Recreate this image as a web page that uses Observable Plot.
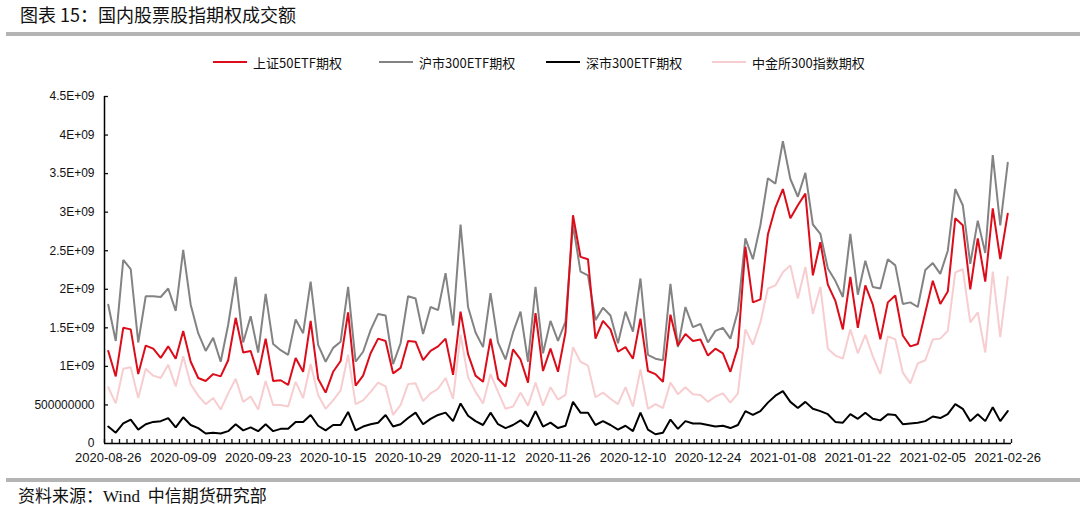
<!DOCTYPE html>
<html><head><meta charset="utf-8">
<script src="https://cdn.jsdelivr.net/npm/d3@7"></script>
<script src="https://cdn.jsdelivr.net/npm/@observablehq/plot@0.6"></script>
<style>
html,body{margin:0;padding:0;background:#fff;}
#wrap{position:relative;width:1080px;height:519px;overflow:hidden;font-family:"Noto Sans CJK SC","Noto Sans",sans-serif;color:#111;}
#title{position:absolute;left:20px;top:1px;font-size:18px;line-height:26px;white-space:nowrap;}
.bar{position:absolute;left:6px;right:0;height:4px;background:#b4b4b4;}
.leg{position:absolute;top:53px;height:18px;display:flex;align-items:center;font-size:13px;white-space:nowrap;}
.sw{width:34px;height:2px;margin-right:6px;}
#chart{position:absolute;left:0;top:80px;}
#cap{position:absolute;left:18px;top:483px;font-size:17px;line-height:24px;white-space:nowrap;}
#cap .w{font-family:"Liberation Serif",serif;}
</style></head>
<body><div id="wrap">
<div id="title">图表 15：国内股票股指期权成交额</div>
<div class="bar" style="top:32px"></div>
<div id="legend"></div>
<div id="chart"></div>
<div class="bar" style="top:478px"></div>
<div id="cap">资料来源：<span class="w">Wind</span>&nbsp;&nbsp;中信期货研究部</div>
</div>
<script>
const dates = [
"2020-08-26","2020-08-27","2020-08-28","2020-08-31",
"2020-09-01","2020-09-02","2020-09-03","2020-09-04","2020-09-07","2020-09-08","2020-09-09","2020-09-10","2020-09-11",
"2020-09-14","2020-09-15","2020-09-16","2020-09-17","2020-09-18","2020-09-21","2020-09-22","2020-09-23","2020-09-24","2020-09-25",
"2020-09-28","2020-09-29","2020-09-30",
"2020-10-09","2020-10-12","2020-10-13","2020-10-14","2020-10-15","2020-10-16","2020-10-19","2020-10-20","2020-10-21","2020-10-22","2020-10-23",
"2020-10-26","2020-10-27","2020-10-28","2020-10-29","2020-10-30",
"2020-11-02","2020-11-03","2020-11-04","2020-11-05","2020-11-06","2020-11-09","2020-11-10","2020-11-11","2020-11-12","2020-11-13",
"2020-11-16","2020-11-17","2020-11-18","2020-11-19","2020-11-20","2020-11-23","2020-11-24","2020-11-25","2020-11-26","2020-11-27","2020-11-30",
"2020-12-01","2020-12-02","2020-12-03","2020-12-04","2020-12-07","2020-12-08","2020-12-09","2020-12-10","2020-12-11",
"2020-12-14","2020-12-15","2020-12-16","2020-12-17","2020-12-18","2020-12-21","2020-12-22","2020-12-23","2020-12-24","2020-12-25",
"2020-12-28","2020-12-29","2020-12-30","2020-12-31",
"2021-01-04","2021-01-05","2021-01-06","2021-01-07","2021-01-08","2021-01-11","2021-01-12","2021-01-13","2021-01-14","2021-01-15",
"2021-01-18","2021-01-19","2021-01-20","2021-01-21","2021-01-22","2021-01-25","2021-01-26","2021-01-27","2021-01-28","2021-01-29",
"2021-02-01","2021-02-02","2021-02-03","2021-02-04","2021-02-05","2021-02-08","2021-02-09","2021-02-10","2021-02-18","2021-02-19",
"2021-02-22","2021-02-23","2021-02-24","2021-02-25","2021-02-26"];

// values in units of 1E+09
const sz50 = [1.20,0.87,1.50,1.48,0.90,1.27,1.23,1.11,1.26,1.10,1.46,1.06,0.85,0.81,0.90,0.87,
1.08,1.63,1.18,1.20,0.89,1.36,0.81,0.82,0.76,1.11,0.93,1.59,0.84,0.66,0.93,
1.07,1.70,0.75,0.88,1.17,1.36,1.33,0.91,0.98,1.33,1.32,1.08,1.20,1.26,1.36,
0.89,1.71,1.16,0.88,0.80,1.36,0.84,0.74,1.22,1.09,0.79,1.69,0.94,1.23,0.93,
1.44,2.96,2.42,2.39,1.36,1.59,1.48,1.19,1.25,1.10,1.62,0.94,0.90,0.80,1.67,
1.27,1.42,1.33,1.35,1.14,1.23,1.17,0.93,1.25,2.55,1.83,1.87,2.71,3.06,3.30,
2.92,3.09,3.24,2.18,2.61,2.06,1.85,1.48,2.16,1.50,2.05,1.80,1.35,1.83,1.92,
1.40,1.26,1.29,1.70,2.11,1.81,1.97,2.92,2.83,2.00,2.66,2.10,3.05,2.39,2.98];
const hs300 = [1.80,1.33,2.38,2.26,1.31,1.91,1.91,1.90,2.01,1.72,2.51,1.80,1.43,1.20,1.37,1.06,
1.54,2.16,1.31,1.65,1.18,1.94,1.29,1.21,1.15,1.61,1.43,2.10,1.28,1.06,1.24,
1.32,2.03,1.06,1.19,1.47,1.68,1.66,1.03,1.30,1.91,1.88,1.42,1.77,1.73,2.21,
1.53,2.84,1.77,1.44,1.25,1.95,1.31,1.09,1.44,1.71,1.06,2.03,1.17,1.59,1.33,
1.58,2.84,2.23,2.18,1.60,1.76,1.66,1.30,1.71,1.45,2.14,1.15,1.10,1.08,2.07,
1.25,1.77,1.51,1.55,1.31,1.46,1.50,1.36,1.72,2.66,2.39,2.83,3.44,3.37,3.92,
3.43,3.20,3.51,2.84,2.72,2.27,2.11,1.90,2.72,1.93,2.37,2.03,2.01,2.39,2.31,
1.81,1.83,1.77,2.25,2.34,2.20,2.50,3.30,3.09,2.33,2.89,2.47,3.74,2.83,3.64];
const ss300 = [0.22,0.14,0.26,0.31,0.18,0.25,0.28,0.29,0.33,0.21,0.34,0.24,0.20,0.13,0.14,0.13,
0.16,0.25,0.17,0.21,0.16,0.25,0.16,0.19,0.19,0.28,0.28,0.37,0.23,0.17,0.24,
0.24,0.41,0.17,0.22,0.25,0.27,0.37,0.22,0.25,0.33,0.40,0.25,0.32,0.37,0.40,
0.29,0.52,0.36,0.29,0.24,0.40,0.25,0.20,0.24,0.30,0.22,0.42,0.22,0.27,0.20,
0.23,0.54,0.40,0.40,0.24,0.29,0.24,0.18,0.23,0.16,0.40,0.18,0.12,0.14,0.31,
0.19,0.29,0.26,0.26,0.24,0.22,0.23,0.20,0.24,0.42,0.37,0.42,0.53,0.62,0.68,
0.54,0.46,0.54,0.45,0.42,0.38,0.28,0.27,0.38,0.32,0.40,0.32,0.30,0.38,0.37,
0.25,0.26,0.27,0.29,0.35,0.33,0.38,0.51,0.45,0.29,0.38,0.29,0.47,0.29,0.42];
const cffex300 = [0.73,0.52,0.97,0.99,0.59,0.97,0.88,0.85,1.02,0.74,1.13,0.77,0.62,0.51,0.59,0.44,
0.65,0.84,0.54,0.61,0.44,0.81,0.50,0.50,0.48,0.80,0.59,1.03,0.63,0.45,0.56,
0.69,1.15,0.51,0.56,0.67,0.79,0.74,0.37,0.50,0.77,0.78,0.55,0.65,0.71,0.85,
0.58,1.41,0.86,0.67,0.52,0.90,0.67,0.45,0.48,0.66,0.49,0.79,0.49,0.73,0.57,
0.63,1.25,1.06,1.01,0.60,0.66,0.58,0.51,0.73,0.48,0.96,0.45,0.51,0.46,0.79,
0.64,0.73,0.64,0.63,0.54,0.61,0.65,0.53,0.65,1.48,1.28,1.57,2.01,2.05,2.22,
2.31,1.88,2.29,1.68,2.03,1.23,1.14,1.10,1.48,1.17,1.41,1.13,0.90,1.39,1.35,
0.92,0.78,1.04,1.08,1.35,1.36,1.46,2.22,2.26,1.57,1.70,1.18,2.23,1.38,2.16];

const seriesNames = ["上证50ETF期权","沪市300ETF期权","深市300ETF期权","中金所300指数期权"];
const seriesColors = ["#dc0d1a","#838383","#000000","#f7cdd0"];
const yTicks = [0,0.5,1,1.5,2,2.5,3,3.5,4,4.5];
const yTickLabels = ["0","500000000","1E+09","1.5E+09","2E+09","2.5E+09","3E+09","3.5E+09","4E+09","4.5E+09"];
const xTickIdx = [0,10,20,30,40,50,60,70,80,90,100,110,120];

const seriesValues = [sz50, hs300, ss300, cffex300];
const rows = [];
seriesValues.forEach((arr, s) => arr.forEach((v, i) => rows.push({i, v, s: seriesNames[s]})));
const drawOrder = [3,1,0,2];
const boundaries = d3.range(dates.length + 1).map(k => k - 0.5);

// legend
const legLeft = [213,379,546,712];
const leg = document.getElementById("legend");
seriesNames.forEach((n, k) => {
  const d = document.createElement("div");
  d.className = "leg"; d.style.left = legLeft[k] + "px";
  d.innerHTML = `<div class="sw" style="background:${seriesColors[k]}"></div><span>${n}</span>`;
  leg.appendChild(d);
});

const chart = Plot.plot({
  width: 1080, height: 393,
  marginLeft: 104, marginRight: 69, marginTop: 16, marginBottom: 30,
  style: {fontFamily: "'Liberation Sans', Arial, sans-serif", fontSize: "12px", color: "#111", background: "#fff"},
  x: {domain: [-0.5, dates.length - 0.5], axis: null},
  y: {domain: [0, 4.5], axis: null},
  marks: [
    ...drawOrder.map(k => Plot.line(rows.filter(r => r.s === seriesNames[k]), {x: "i", y: "v", stroke: seriesColors[k], strokeWidth: 2, strokeLinejoin: "miter"})),
    Plot.axisY({ticks: yTicks, tickSize: 0, tickPadding: 10, label: null, tickFormat: d => yTickLabels[yTicks.indexOf(d)], fontSize: 12}),
    Plot.axisY({ticks: yTicks.slice(1), tickSize: 4, dx: 4, label: null, tickFormat: () => "", strokeWidth: 1.3}),
    Plot.axisX({ticks: boundaries, tickSize: 4, dy: -4, label: null, tickFormat: () => "", strokeWidth: 1.3}),
    Plot.axisX({ticks: xTickIdx, tickSize: 0, tickPadding: 9, label: null, tickFormat: d => dates[d], fontSize: 13}),
    Plot.ruleX([-0.5], {y1: 0, y2: 4.5, stroke: "#000", strokeWidth: 1.5}),
    Plot.ruleY([0], {stroke: "#000", strokeWidth: 1.5})
  ]
});
document.getElementById("chart").appendChild(chart);
</script>
</body></html>
